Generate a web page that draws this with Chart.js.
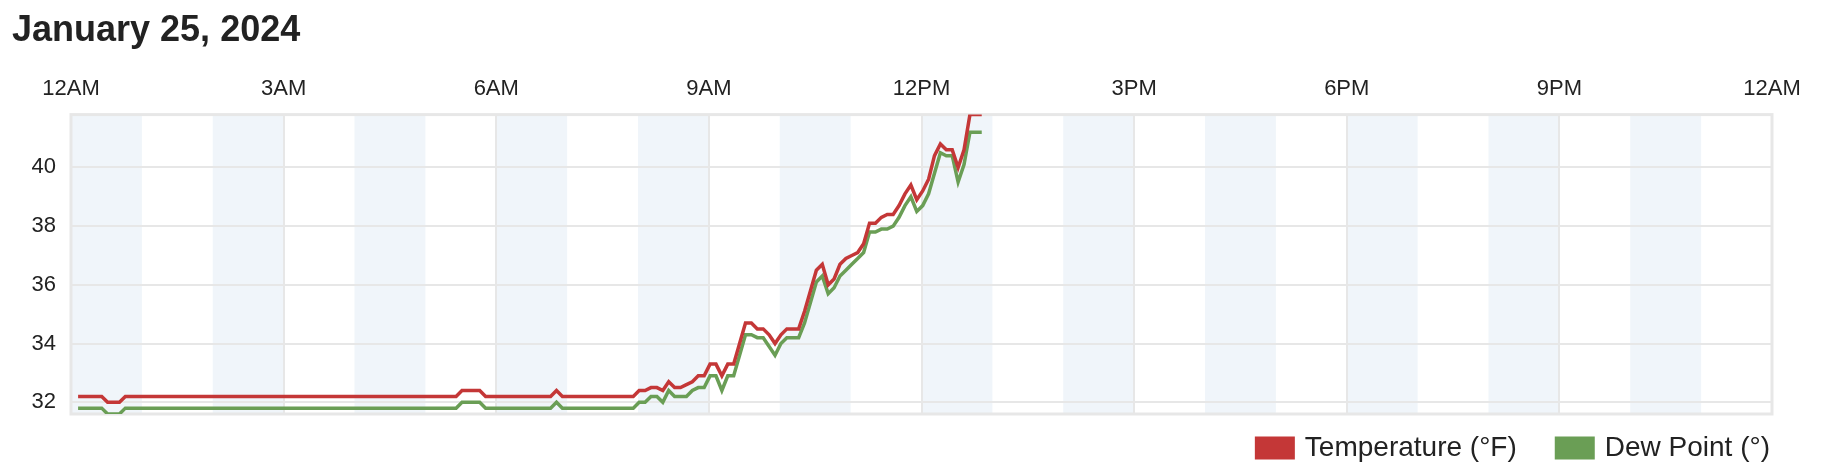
<!DOCTYPE html>
<html>
<head>
<meta charset="utf-8">
<title>January 25, 2024</title>
<script src="https://cdn.jsdelivr.net/npm/chart.js@4.4.1/dist/chart.umd.min.js"></script>
<style>
  html, body { margin: 0; padding: 0; background: #fff; }
  #wrap { width: 1836px; height: 464px; position: relative; }
</style>
</head>
<body>
<div id="wrap"><canvas id="weatherChart"></canvas></div>
<script>
// =======================================
// DATA (5 minute readings)
// =======================================
const firstMinute = 6; // first reading after midnight
const stepMinutes = 5;

const temperatureF = [
  32.2, 32.2, 32.2, 32.2, 32.2, 32.0, 32.0, 32.0, 32.2, 32.2, 32.2,
  32.2, 32.2, 32.2, 32.2, 32.2, 32.2, 32.2, 32.2, 32.2, 32.2, 32.2, 32.2,
  32.2, 32.2, 32.2, 32.2, 32.2, 32.2, 32.2, 32.2, 32.2, 32.2, 32.2, 32.2,
  32.2, 32.2, 32.2, 32.2, 32.2, 32.2, 32.2, 32.2, 32.2, 32.2, 32.2, 32.2,
  32.2, 32.2, 32.2, 32.2, 32.2, 32.2, 32.2, 32.2, 32.2, 32.2, 32.2, 32.2,
  32.2, 32.2, 32.2, 32.2, 32.2, 32.2, 32.4, 32.4, 32.4, 32.4, 32.2, 32.2,
  32.2, 32.2, 32.2, 32.2, 32.2, 32.2, 32.2, 32.2, 32.2, 32.2, 32.4, 32.2,
  32.2, 32.2, 32.2, 32.2, 32.2, 32.2, 32.2, 32.2, 32.2, 32.2, 32.2, 32.2,
  32.4, 32.4, 32.5, 32.5, 32.4, 32.7, 32.5, 32.5, 32.6, 32.7, 32.9, 32.9,
  33.3, 33.3, 32.9, 33.3, 33.3, 34.0, 34.7, 34.7, 34.5, 34.5, 34.3, 34.0,
  34.3, 34.5, 34.5, 34.5, 35.1, 35.8, 36.5, 36.7, 36.0, 36.2, 36.7, 36.9,
  37.0, 37.1, 37.4, 38.1, 38.1, 38.3, 38.4, 38.4, 38.7, 39.1, 39.4, 38.9,
  39.2, 39.6, 40.4, 40.8, 40.6, 40.6, 40.0, 40.6, 41.8, 41.8, 41.8,
];

const dewPointF = [
  31.8, 31.8, 31.8, 31.8, 31.8, 31.6, 31.6, 31.6, 31.8, 31.8, 31.8,
  31.8, 31.8, 31.8, 31.8, 31.8, 31.8, 31.8, 31.8, 31.8, 31.8, 31.8, 31.8,
  31.8, 31.8, 31.8, 31.8, 31.8, 31.8, 31.8, 31.8, 31.8, 31.8, 31.8, 31.8,
  31.8, 31.8, 31.8, 31.8, 31.8, 31.8, 31.8, 31.8, 31.8, 31.8, 31.8, 31.8,
  31.8, 31.8, 31.8, 31.8, 31.8, 31.8, 31.8, 31.8, 31.8, 31.8, 31.8, 31.8,
  31.8, 31.8, 31.8, 31.8, 31.8, 31.8, 32.0, 32.0, 32.0, 32.0, 31.8, 31.8,
  31.8, 31.8, 31.8, 31.8, 31.8, 31.8, 31.8, 31.8, 31.8, 31.8, 32.0, 31.8,
  31.8, 31.8, 31.8, 31.8, 31.8, 31.8, 31.8, 31.8, 31.8, 31.8, 31.8, 31.8,
  32.0, 32.0, 32.2, 32.2, 32.0, 32.4, 32.2, 32.2, 32.2, 32.4, 32.5, 32.5,
  32.9, 32.9, 32.4, 32.9, 32.9, 33.6, 34.3, 34.3, 34.2, 34.2, 33.9, 33.6,
  34.0, 34.2, 34.2, 34.2, 34.7, 35.4, 36.1, 36.3, 35.7, 35.9, 36.3, 36.5,
  36.7, 36.9, 37.1, 37.8, 37.8, 37.9, 37.9, 38.0, 38.3, 38.7, 39.0, 38.5,
  38.7, 39.1, 39.8, 40.5, 40.4, 40.4, 39.5, 40.1, 41.2, 41.2, 41.2,
];

const seriesLabels = ["Temperature (°F)", "Dew Point (°)"];
const xTickMinutes = [0, 180, 360, 540, 720, 900, 1080, 1260, 1440];
const xTickLabels = ["12AM", "3AM", "6AM", "9AM", "12PM", "3PM", "6PM", "9PM", "12AM"];
const yTicks = [32, 34, 36, 38, 40];
const shadedHours = [0, 2, 4, 6, 8, 10, 12, 14, 16, 18, 20, 22];

// =======================================
// STYLE
// =======================================
const FONT = '"Helvetica Neue", Helvetica, "Liberation Sans", Arial, sans-serif';
const TEXT = "#222";
const GRID = "#e7e7e7";
const RED = "#c43737";
const GREEN = "#6a9e55";

Chart.defaults.font.family = FONT;
Chart.defaults.color = TEXT;

function toPoints(values) {
  return values.map((v, i) => ({ x: firstMinute + i * stepMinutes, y: v }));
}

// =======================================
// PLUGINS
// =======================================
// light blue band on every other hour
const hourBands = {
  id: "hourBands",
  beforeDraw(chart) {
    const { ctx, chartArea, scales } = chart;
    ctx.save();
    ctx.fillStyle = "#f0f5fa";
    shadedHours.forEach((h) => {
      const x1 = scales.x.getPixelForValue(h * 60);
      const x2 = scales.x.getPixelForValue((h + 1) * 60);
      ctx.fillRect(x1, chartArea.top, x2 - x1, chartArea.bottom - chartArea.top);
    });
    ctx.restore();
  },
};

// grey frame round the plot
const plotFrame = {
  id: "plotFrame",
  beforeDatasetsDraw(chart) {
    const { ctx, chartArea } = chart;
    ctx.save();
    ctx.strokeStyle = GRID;
    ctx.lineWidth = 3;
    ctx.strokeRect(chartArea.left, chartArea.top, chartArea.right - chartArea.left, chartArea.bottom - chartArea.top);
    ctx.restore();
  },
};

// legend under the plot, right aligned
const boxLegend = {
  id: "boxLegend",
  afterDraw(chart) {
    const { ctx, chartArea } = chart;
    const datasets = chart.data.datasets;
    const y = chartArea.bottom + 34;
    let x = chartArea.right - 2;
    ctx.save();
    ctx.font = "28px " + FONT;
    ctx.textBaseline = "middle";
    for (let i = datasets.length - 1; i >= 0; i--) {
      const ds = datasets[i];
      x -= ctx.measureText(ds.label).width;
      ctx.fillStyle = TEXT;
      ctx.fillText(ds.label, x, y);
      x -= 10 + 40;
      ctx.fillStyle = ds.borderColor;
      ctx.fillRect(x, y - 11.5, 40, 23);
      x -= 38;
    }
    ctx.restore();
  },
};

// =======================================
// CHART
// =======================================
new Chart(document.getElementById("weatherChart"), {
  type: "line",
  data: {
    datasets: [
      { label: seriesLabels[0], data: toPoints(temperatureF), borderColor: RED, backgroundColor: RED },
      { label: seriesLabels[1], data: toPoints(dewPointF), borderColor: GREEN, backgroundColor: GREEN },
    ],
  },
  options: {
    responsive: true,
    maintainAspectRatio: false,
    animation: false,
    layout: { padding: { left: 12, right: 64, top: 0, bottom: 50 } },
    elements: {
      line: { borderWidth: 3.5, tension: 0 },
      point: { radius: 0, hoverRadius: 0 },
    },
    scales: {
      x: {
        type: "linear",
        position: "top",
        min: 0,
        max: 1440,
        afterBuildTicks: (s) => { s.ticks = xTickMinutes.map((v) => ({ value: v })); },
        ticks: {
          callback: (v, i) => xTickLabels[i],
          autoSkip: false,
          maxRotation: 0,
          padding: 12,
          font: { size: 22 },
          color: TEXT,
        },
        grid: { color: GRID, lineWidth: 2, drawTicks: false },
        border: { display: false },
      },
      y: {
        min: 31.6,
        max: 41.8,
        afterBuildTicks: (s) => { s.ticks = yTicks.map((v) => ({ value: v })); },
        afterFit: (s) => { s.width = 59; },
        ticks: { padding: 15, font: { size: 22 }, color: TEXT },
        grid: { color: GRID, lineWidth: 2, drawTicks: false },
        border: { display: false },
      },
    },
    plugins: {
      legend: { display: false },
      tooltip: { enabled: false },
      title: {
        display: true,
        text: "January 25, 2024",
        align: "start",
        color: TEXT,
        font: { size: 36, weight: "bold" },
        padding: { top: 9, bottom: 12 },
      },
    },
  },
  plugins: [hourBands, plotFrame, boxLegend],
});
</script>
</body>
</html>
